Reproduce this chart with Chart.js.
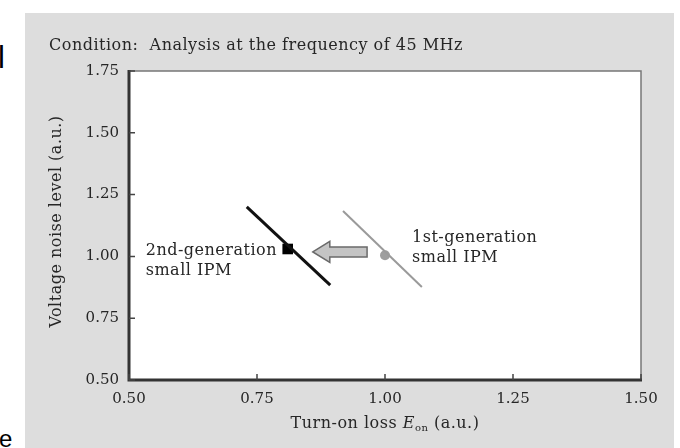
<!DOCTYPE html>
<html>
<head>
<meta charset="utf-8">
<script src="https://cdn.jsdelivr.net/npm/chart.js@4.4.1/dist/chart.umd.min.js"></script>
<style>
  html, body { margin: 0; padding: 0; background: #ffffff; width: 680px; height: 448px; overflow: hidden; position: relative; }
  #wrap { position: absolute; left: 25px; top: 13px; width: 649px; height: 435px; background: #dddddd; }
  .frag { position: absolute; font-family: "Liberation Sans", Arial, sans-serif; color: #000; line-height: 1; }
</style>
</head>
<body>
<div class="frag" style="left:-2px; top:42px; font-size:31px;">l</div>
<div class="frag" style="left:-1px; top:427px; font-size:24px;">e</div>
<div id="wrap"><canvas id="c"></canvas></div>
<script>
// ---- data ----
const chartTitle = "Condition:  Analysis at the frequency of 45 MHz";
const xTicks = [0.50, 0.75, 1.00, 1.25, 1.50];
const yTicks = [0.50, 0.75, 1.00, 1.25, 1.50, 1.75];
const gen2LineX = [0.73, 0.893];
const gen2LineY = [1.20, 0.884];
const gen1LineX = [0.918, 1.072];
const gen1LineY = [1.184, 0.876];
const gen2Point = [0.81, 1.03];
const gen1Point = [1.00, 1.005];
const arrowFrom = [0.965, 1.018];
const arrowTo = [0.859, 1.018];
const gen2Label = ["2nd-generation", "small IPM"];
const gen1Label = ["1st-generation", "small IPM"];

const toPts = (xs, ys) => xs.map((x, i) => ({ x: x, y: ys[i] }));
const SERIF = '"DejaVu Serif", "Liberation Serif", serif';
const TXT = '#262626';
const FS = '16px ';
const LS = '0.5px';

const decor = {
  id: 'decor',
  beforeDatasetsDraw(chart) {
    const { ctx, chartArea: a } = chart;
    ctx.save();
    ctx.fillStyle = '#ffffff';
    ctx.fillRect(a.left, a.top, a.right - a.left, a.bottom - a.top);
    ctx.restore();
  },
  afterDatasetsDraw(chart) {
    const { ctx, chartArea: a, scales } = chart;
    const xs = scales.x, ys = scales.y;
    ctx.save();
    // top & right thin frame
    ctx.strokeStyle = '#777777';
    ctx.lineWidth = 1.5;
    ctx.beginPath();
    ctx.moveTo(a.left, a.top); ctx.lineTo(a.right, a.top); ctx.lineTo(a.right, a.bottom);
    ctx.stroke();
    // left & bottom thick axes
    ctx.strokeStyle = '#333333';
    ctx.lineWidth = 3;
    ctx.beginPath();
    ctx.moveTo(a.left, a.top - 1); ctx.lineTo(a.left, a.bottom); ctx.lineTo(a.right + 1, a.bottom);
    ctx.stroke();
    // inward ticks
    ctx.lineWidth = 1.5;
    ctx.strokeStyle = '#444444';
    ctx.beginPath();
    yTicks.forEach(v => { const p = ys.getPixelForValue(v); ctx.moveTo(a.left, p); ctx.lineTo(a.left + 6, p); });
    xTicks.forEach(v => { const p = xs.getPixelForValue(v); ctx.moveTo(p, a.bottom); ctx.lineTo(p, a.bottom - 6); });
    ctx.stroke();

    // arrow (hollow block arrow)
    const x0 = xs.getPixelForValue(arrowFrom[0]), y0 = ys.getPixelForValue(arrowFrom[1]);
    const x1 = xs.getPixelForValue(arrowTo[0]);
    const headLen = 17, headH = 10.5, shaftH = 5;
    ctx.beginPath();
    ctx.moveTo(x1, y0);
    ctx.lineTo(x1 + headLen, y0 - headH);
    ctx.lineTo(x1 + headLen, y0 - shaftH);
    ctx.lineTo(x0, y0 - shaftH);
    ctx.lineTo(x0, y0 + shaftH);
    ctx.lineTo(x1 + headLen, y0 + shaftH);
    ctx.lineTo(x1 + headLen, y0 + headH);
    ctx.closePath();
    ctx.fillStyle = '#c4c4c4';
    ctx.fill();
    ctx.strokeStyle = '#6a6a6a';
    ctx.lineWidth = 1.5;
    ctx.stroke();

    // annotations
    ctx.fillStyle = TXT;
    ctx.font = FS + SERIF;
    ctx.letterSpacing = LS;
    ctx.textBaseline = 'middle';
    ctx.textAlign = 'left';
    const p2x = xs.getPixelForValue(gen2Point[0]), p2y = ys.getPixelForValue(gen2Point[1]);
    ctx.fillText(gen2Label[0], p2x - 142, p2y + 2);
    ctx.fillText(gen2Label[1], p2x - 142, p2y + 22);
    const p1x = xs.getPixelForValue(gen1Point[0]), p1y = ys.getPixelForValue(gen1Point[1]);
    ctx.fillText(gen1Label[0], p1x + 27, p1y - 17);
    ctx.fillText(gen1Label[1], p1x + 27, p1y + 3);
    ctx.restore();
  },
  afterDraw(chart) {
    const { ctx, chartArea: a } = chart;
    ctx.save();
    ctx.fillStyle = TXT;
    ctx.textBaseline = 'middle';
    ctx.letterSpacing = LS;
    // chart title
    ctx.font = FS + SERIF;
    ctx.textAlign = 'left';
    ctx.fillText(chartTitle, 24, 33);
    // y title
    ctx.save();
    ctx.font = FS + SERIF;
    const yt = 'Voltage noise level (a.u.)';
    const ytw = ctx.measureText(yt).width;
    ctx.translate(32, (a.top + a.bottom) / 2 - 4);
    ctx.rotate(-Math.PI / 2);
    ctx.textAlign = 'left';
    ctx.fillText(yt, -ytw / 2, 0);
    ctx.restore();
    // x title with subscript
    const parts = [
      { t: 'Turn-on loss ', f: FS + SERIF, dy: 0 },
      { t: 'E', f: 'italic ' + FS + SERIF, dy: 0 },
      { t: 'on', f: '10px ' + SERIF, dy: 4 },
      { t: ' (a.u.)', f: FS + SERIF, dy: 0 }
    ];
    let total = 0;
    parts.forEach(p => { ctx.font = p.f; p.w = ctx.measureText(p.t).width; total += p.w; });
    let x = (a.left + a.right) / 2 - total / 2;
    const y = a.bottom + 44;
    ctx.textAlign = 'left';
    parts.forEach(p => { ctx.font = p.f; ctx.fillText(p.t, x, y + p.dy); x += p.w; });
    ctx.restore();
  }
};

new Chart(document.getElementById('c'), {
  type: 'scatter',
  data: {
    datasets: [
      { data: toPts(gen2LineX, gen2LineY), showLine: true, borderColor: '#111111', borderWidth: 3, pointRadius: 0, fill: false },
      { data: toPts(gen1LineX, gen1LineY), showLine: true, borderColor: '#9a9a9a', borderWidth: 2, pointRadius: 0, fill: false },
      { data: [{ x: gen2Point[0], y: gen2Point[1] }], pointStyle: 'rect', pointRadius: 7.5, backgroundColor: '#000000', borderColor: '#000000', borderWidth: 0 },
      { data: [{ x: gen1Point[0], y: gen1Point[1] }], pointStyle: 'circle', pointRadius: 5, backgroundColor: '#9e9e9e', borderColor: '#9e9e9e', borderWidth: 0 }
    ]
  },
  options: {
    responsive: true,
    maintainAspectRatio: false,
    animation: false,
    events: [],
    layout: { padding: { left: 0, top: 58, right: 33, bottom: 0 } },
    plugins: { legend: { display: false }, tooltip: { enabled: false }, title: { display: false } },
    scales: {
      x: {
        type: 'linear', min: 0.5, max: 1.5,
        afterBuildTicks: s => { s.ticks = xTicks.map(v => ({ value: v })); },
        afterFit: s => { s.height = 68; },
        grid: { display: false, drawTicks: false },
        border: { display: false },
        ticks: { padding: 10, color: TXT, font: { family: SERIF, size: 15 }, callback: v => Number(v).toFixed(2), maxRotation: 0, autoSkip: false }
      },
      y: {
        type: 'linear', min: 0.5, max: 1.75,
        afterBuildTicks: s => { s.ticks = yTicks.map(v => ({ value: v })); },
        afterFit: s => { s.width = 104; },
        grid: { display: false, drawTicks: false },
        border: { display: false },
        ticks: { padding: 10, color: TXT, font: { family: SERIF, size: 15 }, callback: v => Number(v).toFixed(2), autoSkip: false }
      }
    }
  },
  plugins: [decor]
});
</script>
</body>
</html>
